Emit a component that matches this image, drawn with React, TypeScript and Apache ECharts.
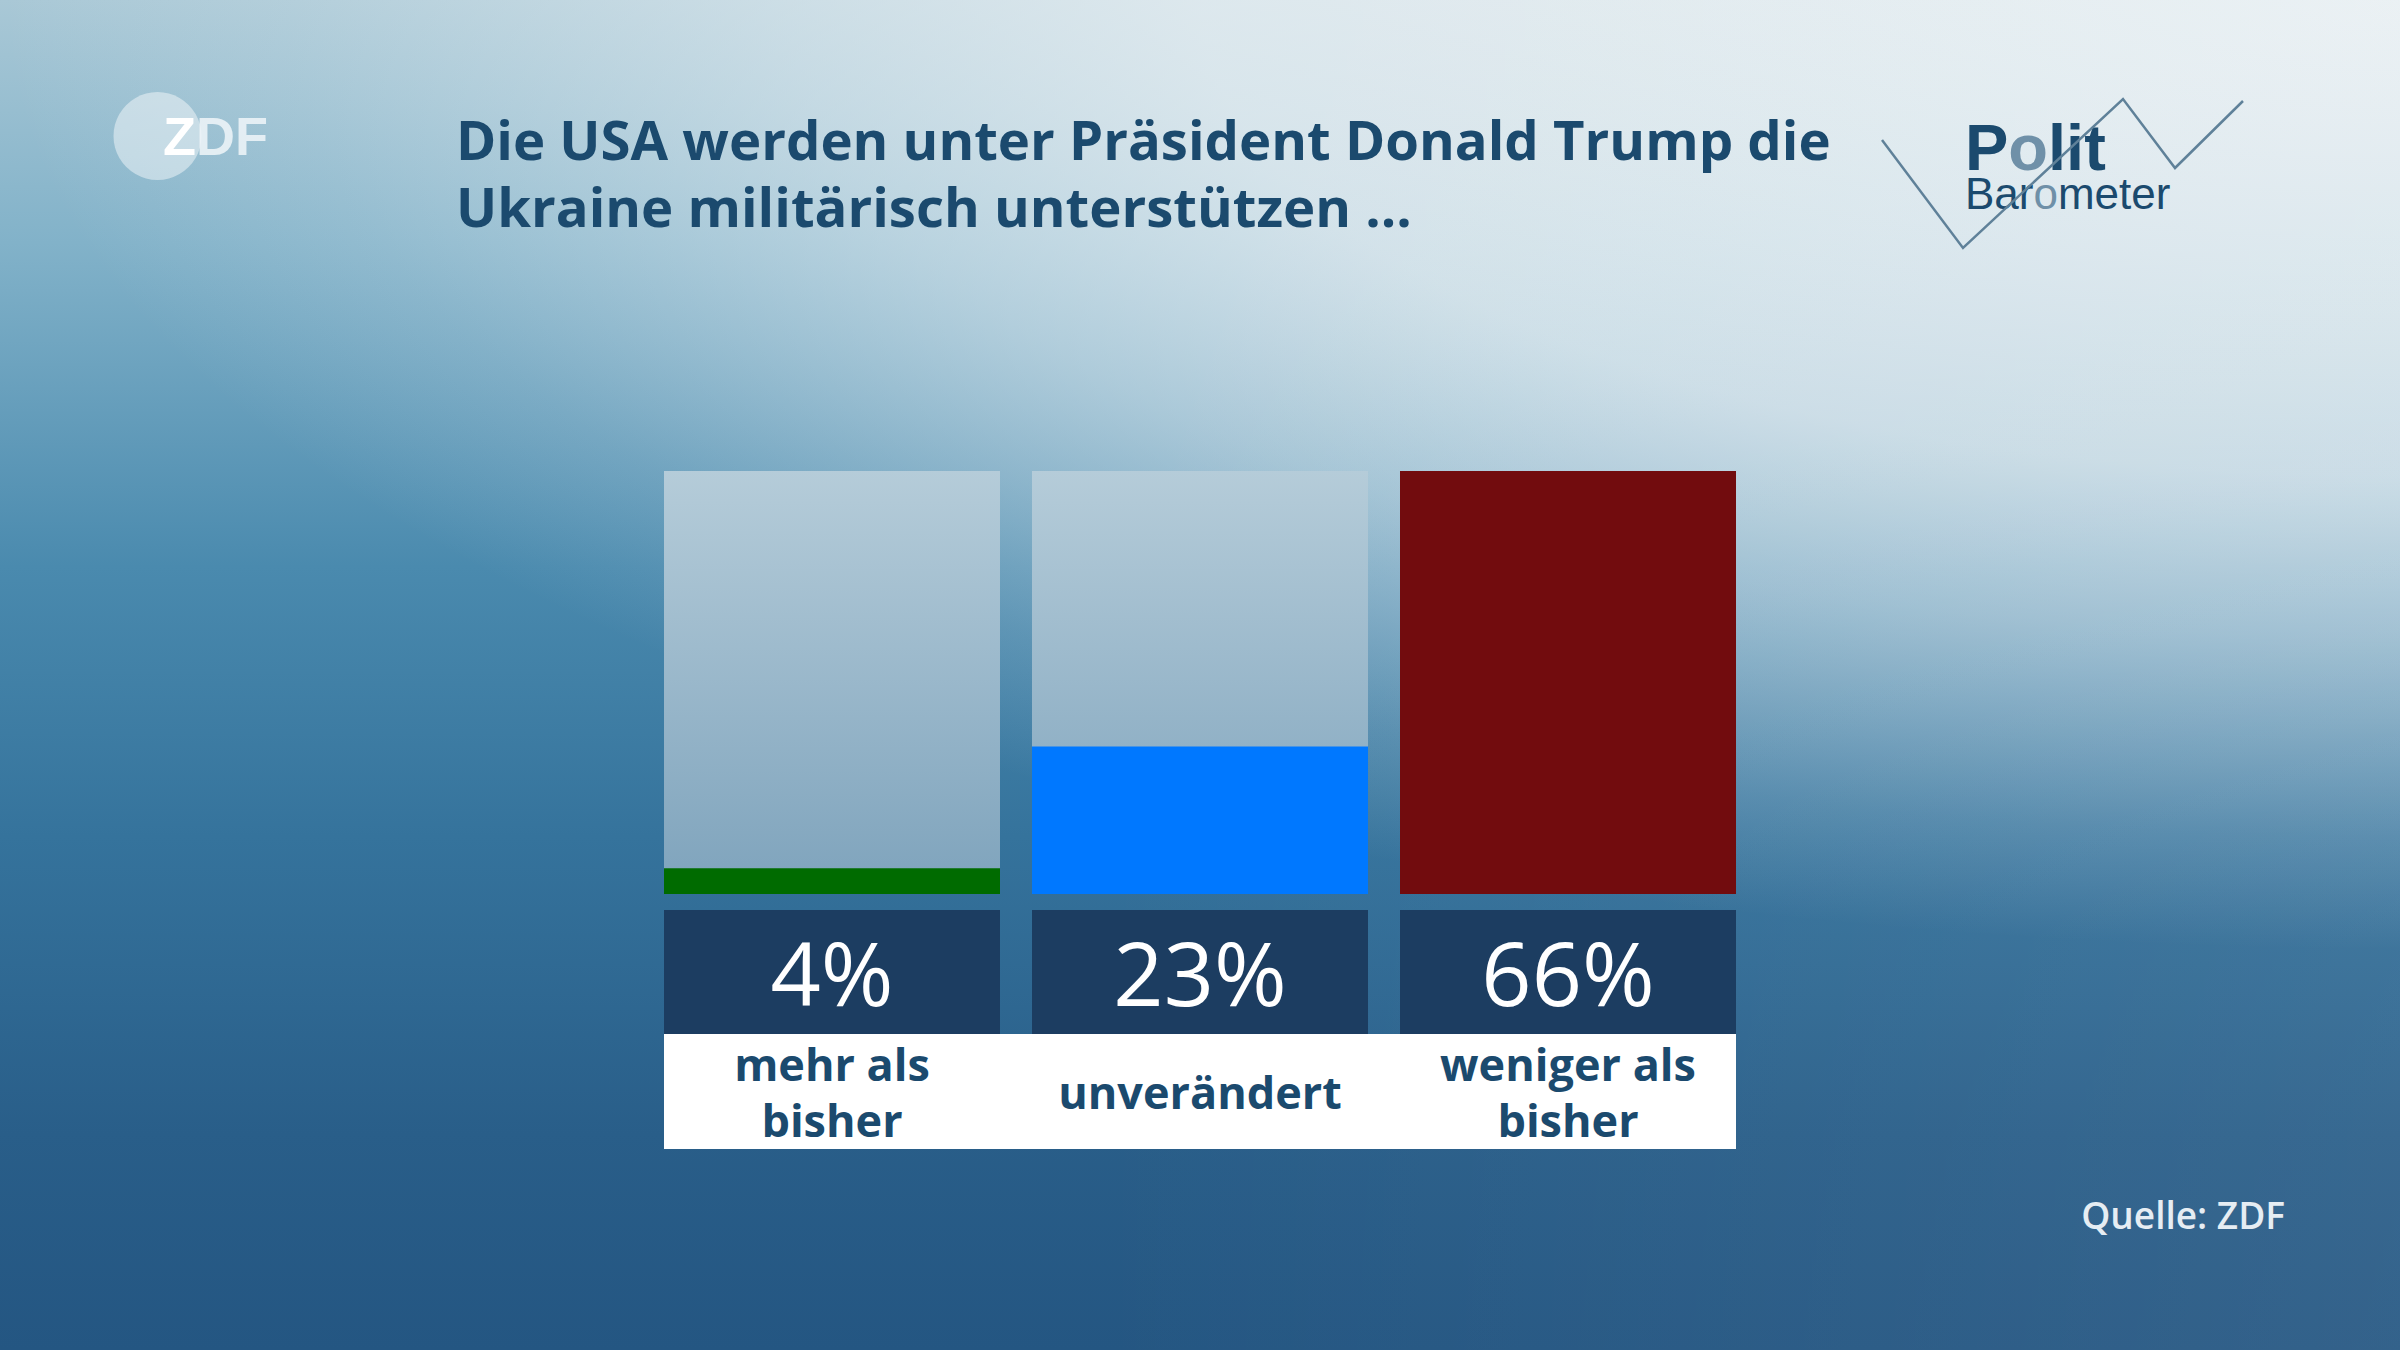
import React, { useEffect, useRef } from "react";
import * as echarts from "echarts";

const categories = ["mehr als\nbisher", "unverändert", "weniger als\nbisher"];
const values = [4, 23, 66];
const barColors = ["#006b00", "#0078ff", "#720c0e"];
const titleText = "Die USA werden unter Präsident Donald Trump die\nUkraine militärisch unterstützen ...";
const sourceText = "Quelle: ZDF";

const GRID_LEFT = 648;
const GRID_WIDTH = 1104;
const BAR_WIDTH = 336;
const GRID_TOP = 471;
const GRID_HEIGHT = 423;

export default function App() {
  const ref = useRef<HTMLDivElement>(null);
  useEffect(() => {
    document.body.style.margin = "0";
    if (!ref.current) return;
    const chart = echarts.init(ref.current, undefined, { renderer: "svg" });
    const band = GRID_WIDTH / categories.length;
    const panelLeft = GRID_LEFT + (band - BAR_WIDTH) / 2;
    const panelWidth = GRID_WIDTH - (band - BAR_WIDTH);
    chart.setOption({
      animation: false,
      backgroundColor: "transparent",
      title: {
        text: titleText,
        left: 456,
        top: 105,
        padding: 0,
        textStyle: {
          fontFamily: "Open Sans",
          fontWeight: "bold",
          fontSize: 54.5,
          lineHeight: 67,
          color: "#1b4a6e",
        },
      },
      grid: { left: GRID_LEFT, width: GRID_WIDTH, top: GRID_TOP, height: GRID_HEIGHT },
      xAxis: [
        {
          type: "category",
          data: categories,
          position: "bottom",
          z: 5,
          axisLine: { show: false },
          axisTick: { show: false },
          axisLabel: {
            interval: 0,
            margin: 16,
            formatter: (_v: string, i: number) => `{p|${values[i]}%}`,
            rich: {
              p: {
                width: BAR_WIDTH,
                height: 124,
                lineHeight: 124,
                align: "center",
                backgroundColor: "#1c3d61",
                color: "#ffffff",
                fontFamily: "Open Sans",
                fontSize: 88,
              },
            },
          },
        },
        {
          type: "category",
          data: categories,
          position: "bottom",
          offset: 0,
          z: 5,
          axisLine: { show: false },
          axisTick: { show: false },
          axisLabel: {
            interval: 0,
            margin: 197,
            verticalAlign: "middle",
            color: "#1b4a6e",
            fontFamily: "Open Sans",
            fontWeight: "bold",
            fontSize: 45,
            lineHeight: 56,
          },
        },
      ],
      yAxis: { type: "value", min: 0, max: Math.max(...values), show: false },
      series: [
        {
          type: "bar",
          xAxisIndex: 0,
          barWidth: BAR_WIDTH,
          showBackground: true,
          backgroundStyle: {
            color: {
              type: "linear",
              x: 0,
              y: 0,
              x2: 0,
              y2: 1,
              colorStops: [
                { offset: 0, color: "#b5ccd9" },
                { offset: 1, color: "#7ea3bc" },
              ],
            },
          },
          data: values.map((v, i) => ({ value: v, itemStyle: { color: barColors[i] } })),
        },
      ],
      graphic: [
        {
          type: "rect",
          z: 0,
          shape: { x: panelLeft, y: 1034, width: panelWidth, height: 115 },
          style: { fill: "#ffffff" },
        },
        {
          type: "circle",
          shape: { cx: 157.5, cy: 136, r: 44 },
          style: { fill: "rgba(255,255,255,0.45)" },
        },
        {
          type: "text",
          x: 163,
          y: 136,
          style: {
            text: "{z|Z}{d|DF}",
            verticalAlign: "middle",
            rich: {
              z: { fontFamily: "Liberation Sans", fontWeight: "bold", fontSize: 54, fill: "#ffffff" },
              d: { fontFamily: "Liberation Sans", fontWeight: "bold", fontSize: 54, fill: "rgba(240,246,249,0.85)" },
            },
          },
        },
        {
          type: "text",
          x: 1965,
          y: 147,
          style: {
            text: "{a|P}{o|o}{a|lit}",
            verticalAlign: "middle",
            rich: {
              a: { fontFamily: "Liberation Sans", fontWeight: "bold", fontSize: 65, lineHeight: 44, fill: "#1b4a6e" },
              o: { fontFamily: "Liberation Sans", fontWeight: "bold", fontSize: 65, lineHeight: 44, fill: "#6f90a8" },
            },
          },
        },
        {
          type: "text",
          x: 1965,
          y: 193,
          style: {
            text: "{a|Bar}{o|o}{a|meter}",
            verticalAlign: "middle",
            rich: {
              a: { fontFamily: "Liberation Sans", fontSize: 44, lineHeight: 38, fill: "#1b4a6e" },
              o: { fontFamily: "Liberation Sans", fontSize: 44, lineHeight: 38, fill: "#6f90a8" },
            },
          },
        },
        {
          type: "polyline",
          shape: {
            points: [
              [1882, 140],
              [1963, 248],
              [2123, 99],
              [2175, 168],
              [2243, 101],
            ],
          },
          style: { stroke: "#5f8199", lineWidth: 2.5, fill: null },
        },
        {
          type: "text",
          x: 2285,
          y: 1214,
          style: {
            text: sourceText,
            align: "right",
            verticalAlign: "middle",
            fontFamily: "Open Sans",
            fontWeight: 600,
            fontSize: 37,
            fill: "#e6edf3",
          },
        },
      ],
    });
    return () => chart.dispose();
  }, []);
  return (
    <div
      ref={ref}
      style={{
        width: 2400,
        height: 1350,
        background:
          "linear-gradient(to right, rgba(255,255,255,0) 45%, rgba(255,255,255,0.07) 100%), radial-gradient(ellipse 2400px 950px at 100% 0%, rgba(240,244,246,0.9) 0%, rgba(240,244,246,0.73) 50%, rgba(240,244,246,0.5) 67%, rgba(240,244,246,0.15) 88%, rgba(240,244,246,0) 100%), linear-gradient(to bottom, #a9c8d6 0%, #82b2c9 18%, #4a8aae 42%, #35739c 62%, #295e89 84%, #245682 100%)",
      }}
    />
  );
}
